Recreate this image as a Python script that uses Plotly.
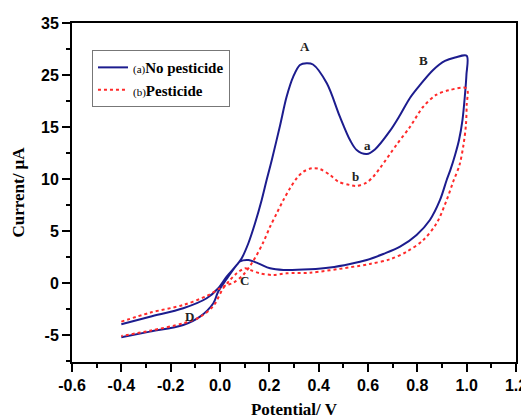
import plotly.graph_objects as go

# ---- data ----
blue_x = [-0.40, -0.284, -0.149, -0.054, -0.007, 0.027, 0.068, 0.088, 0.115, 0.142, 0.169,
          0.189, 0.210, 0.243, 0.270, 0.297, 0.324, 0.351, 0.377, 0.433, 0.486, 0.527, 0.554,
          0.595, 0.628, 0.689, 0.730, 0.770, 0.811, 0.864, 0.912, 0.953, 1.000,
          0.999, 0.993, 0.983, 0.969, 0.953, 0.934, 0.919, 0.892, 0.851, 0.797, 0.730,
          0.662, 0.595, 0.527, 0.446, 0.365, 0.257, 0.203, 0.155, 0.115, 0.081, 0.068,
          0.027, -0.008, -0.027, -0.081, -0.149, -0.284, -0.40]
blue_y = [-3.97, -3.24, -2.43, -1.47, -0.51, 0.61, 1.73, 2.38, 3.82, 5.74, 7.98,
          9.90, 11.83, 15.10, 17.90, 19.84, 20.96, 21.13, 21.01, 19.20, 15.99, 13.75, 12.79,
          12.40, 12.84, 14.62, 16.15, 17.79, 19.04, 20.48, 21.35, 21.68, 21.86,
          20.00, 18.08, 15.67, 13.75, 12.31, 10.87, 9.90, 7.98, 6.06, 4.62, 3.49,
          2.79, 2.21, 1.83, 1.49, 1.32, 1.25, 1.41, 1.89, 2.21, 2.07, 1.73,
          0.38, -0.87, -1.95, -3.24, -4.04, -4.68, -5.22]

red_x = [-0.40, -0.284, -0.149, -0.054, 0.000, 0.027, 0.054, 0.094, 0.135, 0.176, 0.203,
         0.230, 0.257, 0.284, 0.311, 0.338, 0.372, 0.405, 0.446, 0.480, 0.527, 0.554,
         0.592, 0.620, 0.649, 0.718, 0.770, 0.823, 0.876, 0.932, 1.000,
         1.000, 0.997, 0.987, 0.971, 0.945, 0.919, 0.878, 0.824, 0.757, 0.689, 0.608,
         0.527, 0.365, 0.270, 0.216, 0.162, 0.122, 0.101, 0.068, 0.041, 0.013, -0.027,
         -0.081, -0.149, -0.284, -0.40]
red_y = [-3.72, -2.86, -2.12, -1.25, -0.51, -0.20, 0.02, 0.77, 2.12, 3.94, 5.41,
         6.70, 7.98, 9.11, 10.07, 10.70, 11.03, 10.96, 10.38, 9.74, 9.42, 9.33,
         9.62, 10.19, 11.06, 13.37, 15.00, 16.92, 18.08, 18.56, 18.70,
         17.10, 15.20, 13.27, 11.35, 9.71, 7.98, 5.74, 4.13, 3.01, 2.28, 1.83,
         1.51, 0.99, 0.93, 0.77, 0.93, 1.25, 1.41, 0.93, 0.29, -0.51, -2.21,
         -3.27, -3.88, -4.59, -5.10]

y_tickvals = [-5, 0, 5, 10, 15, 20, 25]
y_ticktext = ["-5", "0", "5", "10", "15", "25", "35"]
x_tickvals = [-0.6, -0.4, -0.2, 0.0, 0.2, 0.4, 0.6, 0.8, 1.0, 1.2]
x_ticktext = ["-0.6", "-0.4", "-0.2", "0.0", "0.2", "0.4", "0.6", "0.8", "1.0", "1.2"]

peak_labels = ["A", "B", "a", "b", "C", "D"]
peak_x = [0.345, 0.823, 0.596, 0.551, 0.101, -0.122]
peak_y = [22.7, 21.4, 13.2, 10.2, 0.19, -3.27]

series_names = ["<span style='font-size:11px'>(a)</span><b>No pesticide</b>",
                "<span style='font-size:11px'>(b)</span><b>Pesticide</b>"]

BLUE = "#1c1c8e"
RED = "#ff2a2a"
SERIF = "Liberation Serif, Times New Roman, serif"
SANS = "Liberation Sans, Arial, sans-serif"

fig = go.Figure()
fig.add_scatter(x=blue_x, y=blue_y, mode="lines", name=series_names[0],
                line=dict(color=BLUE, width=2, shape="spline", smoothing=0.9))
fig.add_scatter(x=red_x, y=red_y, mode="lines", name=series_names[1],
                line=dict(color=RED, width=2, dash="dot", shape="spline", smoothing=0.9))

for t, xv, yv in zip(peak_labels, peak_x, peak_y):
    fig.add_annotation(x=xv, y=yv, text="<b>%s</b>" % t, showarrow=False,
                       font=dict(family=SERIF, size=13, color="#222"))

fig.update_layout(
    width=521, height=411,
    margin=dict(l=64, r=13, t=15, b=57, autoexpand=False),
    paper_bgcolor="white", plot_bgcolor="white",
    showlegend=True,
    legend=dict(x=0.045, y=0.92, xanchor="left", yanchor="top",
                bordercolor="#777", borderwidth=1, bgcolor="white",
                font=dict(family=SERIF, size=15, color="black"),
                itemwidth=30, tracegroupgap=0),
)
fig.update_xaxes(range=[-0.6, 1.2], tickvals=x_tickvals, ticktext=x_ticktext,
                 automargin=False,
                 showgrid=False, zeroline=False, showline=True, linecolor="black",
                 linewidth=2, mirror=True, ticks="outside", ticklen=8, tickwidth=2,
                 tickcolor="black",
                 tickfont=dict(family=SANS, size=16, color="black", weight="bold"),
                 minor=dict(dtick=0.1, tick0=-0.6, ticks="outside", ticklen=4,
                            tickwidth=1.5, tickcolor="black"),
                 title=dict(text="<b>Potential/ V</b>", standoff=16,
                            font=dict(family=SERIF, size=17, color="black")))
fig.update_yaxes(range=[-7.6, 25], tickvals=y_tickvals, ticktext=y_ticktext,
                 automargin=False,
                 showgrid=False, zeroline=False, showline=True, linecolor="black",
                 linewidth=2, mirror=True, ticks="outside", ticklen=8, tickwidth=2,
                 tickcolor="black",
                 tickfont=dict(family=SANS, size=16, color="black", weight="bold"),
                 minor=dict(dtick=2.5, tick0=-5, ticks="outside", ticklen=4,
                            tickwidth=1.5, tickcolor="black"),
                 title=dict(text="<b>Current/ μA</b>", standoff=12,
                            font=dict(family=SERIF, size=17, color="black")))

fig.write_html("out.html")
